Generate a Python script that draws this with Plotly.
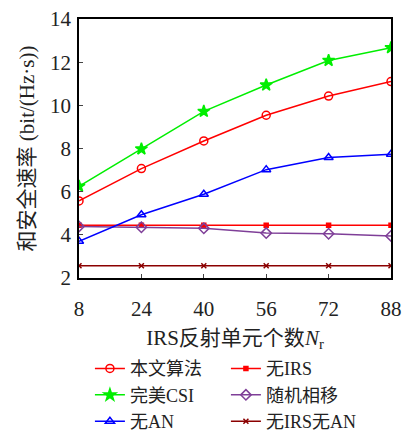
import plotly.graph_objects as go

x_vals = [8, 24, 40, 56, 72, 88]
proposed = [5.57, 7.07, 8.35, 9.54, 10.43, 11.10]
perfect_csi = [6.25, 7.98, 9.72, 10.94, 12.08, 12.67]
no_an = [3.70, 4.93, 5.88, 7.02, 7.58, 7.73]
no_irs = [4.44, 4.44, 4.44, 4.44, 4.44, 4.44]
random_phase = [4.39, 4.35, 4.30, 4.08, 4.05, 3.95]
no_irs_no_an = [2.57, 2.57, 2.57, 2.57, 2.57, 2.57]

series = [
    ("本文算法", proposed, "#ff0000", "circle-open", 8),
    ("无IRS", no_irs, "#ff0000", "square", 4),
    ("完美CSI", perfect_csi, "#00ee00", "star", 9),
    ("随机相移", random_phase, "#7f3f98", "diamond-open", 8),
    ("无AN", no_an, "#0000ff", "triangle-up-open", 8),
    ("无IRS无AN", no_irs_no_an, "#8b0000", "x-thin-open", 5),
]

font_fam = "Liberation Serif, Noto Sans CJK SC, serif"
fig = go.Figure()
for name, ys, col, sym, sz in series:
    fig.add_trace(go.Scatter(
        x=x_vals, y=ys, name=name, mode="lines+markers",
        line=dict(color=col, width=1.5),
        marker=dict(symbol=sym, size=sz, color=col, line=dict(color=col, width=1.5)),
    ))

fig.update_layout(
    width=403, height=433,
    margin=dict(l=79, r=12, t=19, b=155, autoexpand=False),
    plot_bgcolor="white", paper_bgcolor="white",
    font=dict(family=font_fam, size=20, color="#222"),
    showlegend=True,
    legend=dict(
        orientation="h", x=0.035, y=-0.279, xanchor="left", yanchor="top",
        entrywidth=91, entrywidthmode="pixels",
        font=dict(size=18, family=font_fam), itemwidth=30,
        bgcolor="rgba(0,0,0,0)",
    ),
    xaxis=dict(
        range=[8, 88], tickvals=x_vals, ticks="inside", ticklen=4,
        showline=True, linecolor="black", linewidth=1.5, mirror=True,
        showgrid=False, zeroline=False, ticklabelstandoff=11,
        title=dict(text="IRS反射单元个数<i>N</i><sub>r</sub>", font=dict(size=21), standoff=10),
        tickfont=dict(size=21),
    ),
    yaxis=dict(
        range=[2, 14], tickvals=[2, 4, 6, 8, 10, 12, 14], ticks="inside", ticklen=4,
        showline=True, linecolor="black", linewidth=1.5, mirror=True,
        showgrid=False, zeroline=False, ticklabelstandoff=2,
        title=dict(text="和安全速率 (bit/(Hz·s))", font=dict(size=21), standoff=10),
        tickfont=dict(size=21),
    ),
)
fig.write_html("out.html")
